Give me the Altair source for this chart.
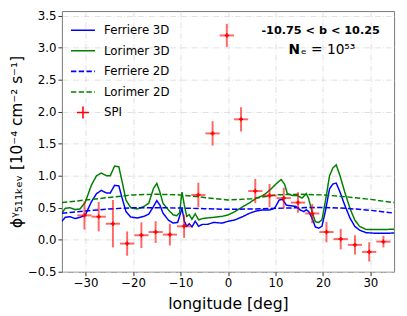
import altair as alt
import pandas as pd

# ---------------- data ----------------
fer3d_lon = [-35, -34.3, -33.3, -32.2, -31.2, -30.1, -28.8, -27.7, -26.7, -25.6, -24.8, -23.9, -23.0,
             -22.2, -21.5, -20.5, -19.1, -17.7, -16.7, -15.7, -15.0, -14.35, -13.7, -12.6, -11.6, -10.6,
             -9.7, -9.2, -8.7, -8.15, -7.6, -6.9, -6.2, -5.4, -4.35, -3.0, -1.25, 0.1, 1.5, 3.2, 4.6,
             6.0, 7.4, 8.75, 9.8, 10.8, 11.5, 12.3, 13.2, 14.3, 15.3, 16.0, 16.5, 17.0, 17.7, 18.4,
             19.1, 19.8, 20.5, 21.4, 22.1, 22.8, 23.6, 24.6, 25.7, 26.7, 27.7, 29.1, 31.2, 33.2, 35]
fer3d_val = [0.29, 0.35, 0.36, 0.33, 0.35, 0.38, 0.59, 0.72, 0.77, 0.73, 0.73, 0.85, 0.84,
             0.62, 0.44, 0.355, 0.34, 0.365, 0.40, 0.52, 0.61, 0.54, 0.415, 0.31, 0.26, 0.27,
             0.49, 0.29, 0.21, 0.25, 0.20, 0.29, 0.21, 0.24, 0.24, 0.27, 0.26, 0.29, 0.31, 0.365, 0.415,
             0.45, 0.465, 0.465, 0.49, 0.62, 0.63, 0.54, 0.53, 0.52, 0.46, 0.44, 0.47, 0.44, 0.34, 0.20,
             0.18, 0.21, 0.44, 0.795, 0.87, 0.885, 0.745, 0.54, 0.34, 0.21, 0.15, 0.11, 0.10, 0.10, 0.105]

lor3d_lon = [-35, -34.3, -33.3, -32.2, -31.2, -30.1, -28.8, -27.7, -26.7, -25.6, -24.8, -23.9, -23.0,
             -22.2, -21.5, -20.5, -19.1, -17.7, -16.7, -15.7, -15.0, -14.35, -13.7, -12.6, -11.6, -10.8,
             -10.2, -9.7, -9.2, -8.7, -8.15, -7.6, -6.9, -6.2, -5.4, -4.35, -3.0, -1.25, 0.1, 1.5, 3.2,
             4.6, 6.0, 7.4, 8.75, 10.1, 11.2, 11.9, 12.5, 13.6, 14.6, 15.6, 16.5, 17.0, 17.7, 18.4, 19.1,
             19.8, 20.5, 21.4, 22.1, 22.8, 23.6, 24.6, 25.7, 26.7, 27.7, 29.1, 31.2, 33.2, 35]
lor3d_val = [0.415, 0.49, 0.50, 0.47, 0.48, 0.58, 0.85, 1.0, 1.04, 1.0, 1.0, 1.15, 1.14,
             0.87, 0.62, 0.50, 0.48, 0.52, 0.57, 0.80, 0.88, 0.745, 0.57, 0.47, 0.39, 0.375,
             0.42, 0.745, 0.54, 0.365, 0.39, 0.32, 0.405, 0.31, 0.33, 0.34, 0.35, 0.365, 0.39, 0.44, 0.52,
             0.58, 0.65, 0.69, 0.77, 0.87, 0.94, 0.87, 0.72, 0.69, 0.69, 0.65, 0.72, 0.64, 0.44, 0.28, 0.27,
             0.31, 0.59, 1.0, 1.12, 1.17, 1.0, 0.745, 0.49, 0.31, 0.21, 0.16, 0.16, 0.16, 0.165]

lon2d = [-35, -30, -25, -20, -15, -10, -5, 0, 5, 10, 15, 20, 25, 30, 35]
fer2d_val = [0.415, 0.45, 0.48, 0.50, 0.50, 0.495, 0.485, 0.475, 0.48, 0.49, 0.50, 0.505, 0.49, 0.46, 0.415]
lor2d_val = [0.58, 0.62, 0.66, 0.70, 0.71, 0.70, 0.66, 0.62, 0.64, 0.70, 0.71, 0.70, 0.67, 0.63, 0.58]

spi_lon = [-30.25, -27.25, -24.25, -21.25, -18.25, -15.25, -12.25, -9.25, -6.25, -3.25, -0.25,
           2.75, 5.75, 8.75, 11.75, 14.75, 17.75, 20.75, 23.75, 26.75, 29.75, 32.75]
spi_val = [0.38, 0.36, 0.25, -0.06, 0.07, 0.12, 0.08, 0.21, 0.70, 1.66, 3.19,
           1.88, 0.76, 0.69, 0.65, 0.58, 0.41, 0.12, 0.01, -0.08, -0.19, -0.03]
spi_err = [0.22, 0.23, 0.37, 0.19, 0.20, 0.17, 0.17, 0.18, 0.19, 0.19, 0.18,
           0.19, 0.19, 0.18, 0.16, 0.16, 0.15, 0.16, 0.16, 0.15, 0.15, 0.09]
spi_xerr = [1.5] * len(spi_lon)

series_names = ["Ferriere 3D", "Lorimer 3D", "Ferriere 2D", "Lorimer 2D", "SPI"]
series_colors = ["#0000ff", "#008000", "#0000ff", "#008000", "#ff0000"]
series_dash = [[1, 0], [1, 0], [5.5, 2.4], [5.5, 2.4], [1, 0]]

# ---------------- tables ----------------
frames = []
for name, lons, vals in [("Ferriere 3D", fer3d_lon, fer3d_val),
                         ("Lorimer 3D", lor3d_lon, lor3d_val),
                         ("Ferriere 2D", lon2d, fer2d_val),
                         ("Lorimer 2D", lon2d, lor2d_val)]:
    frames.append(pd.DataFrame({"series": name, "lon": lons, "val": vals}))
lines = pd.concat(frames, ignore_index=True)

spi = pd.DataFrame({"lon": spi_lon, "val": spi_val, "err": spi_err, "xerr": spi_xerr})
spi["lo"] = spi["val"] - spi["err"]
spi["hi"] = spi["val"] + spi["err"]
spi["xlo"] = spi["lon"] - spi["xerr"]
spi["xhi"] = spi["lon"] + spi["xerr"]

xscale = alt.Scale(domain=[-35, 35], nice=False, zero=False)
yscale = alt.Scale(domain=[-0.5, 3.57], nice=False, zero=False)

xaxis = alt.Axis(title="longitude [deg]", values=[-30, -20, -10, 0, 10, 20, 30], titlePadding=7,
                 labelOverlap=False)
yaxis = alt.Axis(title="ϕᵞ₅₁₁ₖₑᵥ [10⁻⁴ cm⁻² s⁻¹]", values=[-0.5, 0.0, 0.5, 1.0, 1.5, 2.0, 2.5, 3.0, 3.5],
                 format=".1f", titlePadding=3, labelOverlap=False, titleFontSize=15.5)

leg = alt.Legend(title=None, orient="none", legendX=8, legendY=6,
                 symbolType={"expr": "datum.label == 'SPI' ? 'M-0.5,0H0.5M0,-0.5V0.5' : 'stroke'"},
                 symbolSize=600, symbolStrokeWidth=1.6, labelFontSize=12, labelOffset=8,
                 rowPadding=1, labelFont="DejaVu Sans")

line_chart = alt.Chart(lines).mark_line(strokeWidth=1.5, clip=True).encode(
    x=alt.X("lon:Q", scale=xscale, axis=xaxis),
    y=alt.Y("val:Q", scale=yscale, axis=yaxis),
    color=alt.Color("series:N", scale=alt.Scale(domain=series_names, range=series_colors), legend=leg),
    strokeDash=alt.StrokeDash("series:N", scale=alt.Scale(domain=series_names, range=series_dash), legend=leg),
)

vbars = alt.Chart(spi).mark_rule(color="#ff0000", opacity=0.6, strokeWidth=2).encode(
    x=alt.X("lon:Q", scale=xscale, axis=xaxis), y=alt.Y("lo:Q", scale=yscale, axis=yaxis), y2="hi:Q")
hbars = alt.Chart(spi).mark_rule(color="#ff0000", opacity=0.6, strokeWidth=2).encode(
    x=alt.X("xlo:Q", scale=xscale, axis=xaxis), x2="xhi:Q", y=alt.Y("val:Q", scale=yscale, axis=yaxis))
centers = alt.Chart(spi).mark_point(shape="M-1,0H1M0,-1V1", filled=False, color="#ff0000",
                                    strokeWidth=1.5, size=20, opacity=1).encode(
    x=alt.X("lon:Q", scale=xscale, axis=xaxis), y=alt.Y("val:Q", scale=yscale, axis=yaxis))

ann1 = alt.Chart(pd.DataFrame({"t": ["-10.75 < b < 10.25"]})).mark_text(
    font="DejaVu Sans", fontSize=11.5, fontWeight="bold", align="center", baseline="middle", color="black"
).encode(text="t:N", x=alt.value(264), y=alt.value(20))
ann2a = alt.Chart(pd.DataFrame({"t": ["N"]})).mark_text(
    font="DejaVu Sans", fontSize=14, fontWeight="bold", align="right", baseline="middle", color="black"
).encode(text="t:N", x=alt.value(243), y=alt.value(40))
ann2b = alt.Chart(pd.DataFrame({"t": ["ₑ = 10⁵³"]})).mark_text(
    font="DejaVu Sans", fontSize=14, align="left", baseline="middle", color="black"
).encode(text="t:N", x=alt.value(244), y=alt.value(40))

chart = alt.layer(line_chart, vbars, hbars, centers, ann1, ann2a, ann2b).properties(
    width=339, height=266,
    autosize=alt.AutoSizeParams(type="none"),
    padding={"left": 55, "top": 0, "right": 5, "bottom": 42},
).configure_axis(
    grid=True, gridColor="#d9d9d9", gridDash=[6, 2, 1, 2], gridWidth=0.8,
    labelFont="DejaVu Sans", labelFontSize=12, labelColor="black", labelOverlap=False,
    titleFont="DejaVu Sans", titleFontSize=16, titleFontWeight="normal", titleColor="black",
    tickColor="#333333", tickSize=4, domain=False,
).configure_view(stroke="#777777", strokeWidth=1)

chart.save("out.html", embed_options={"renderer": "svg", "actions": False})
